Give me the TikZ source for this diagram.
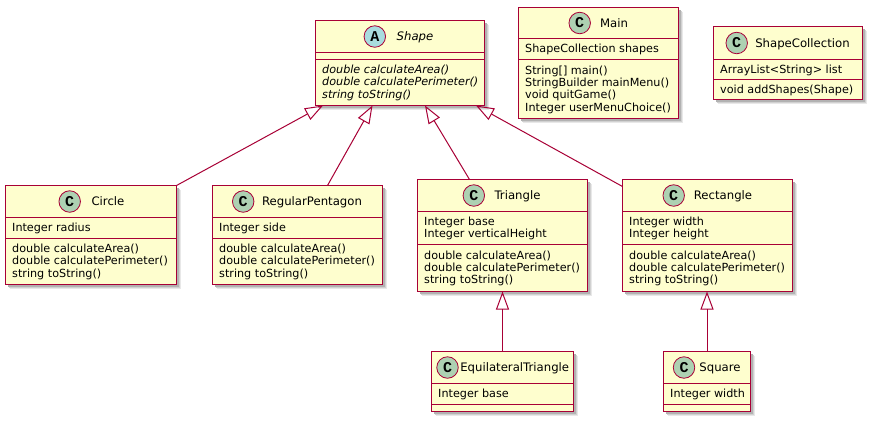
\documentclass[tikz,border=0pt]{standalone}
\usepackage{fontspec}
\setmainfont{DejaVu Sans}
\newfontfamily\iconmono{Liberation Mono}
\usetikzlibrary{arrows.meta,shadows,calc}
\definecolor{umlred}{HTML}{A80036}
\definecolor{umlfill}{HTML}{FEFECE}
\definecolor{cgreen}{HTML}{ADD1B2}
\definecolor{ablue}{HTML}{A9DCDF}
\newcommand\memberfont{\fontsize{11.2}{12.4}\selectfont}
\newcommand\titlefont{\fontsize{11.7}{14}\selectfont}
\newcommand\iconfont{\iconmono\bfseries\fontsize{15}{15}\selectfont}
\tikzset{
  classbox/.style={draw=umlred, line width=1.5pt, fill=umlfill, anchor=north west,
    inner sep=0pt, outer sep=0pt,
    drop shadow={shadow xshift=4.5pt, shadow yshift=-4.5pt, fill=black!9, opacity=1},
    drop shadow={shadow xshift=3.5pt, shadow yshift=-3.5pt, fill=black!18, opacity=1},
    drop shadow={shadow xshift=2.5pt, shadow yshift=-2.5pt, fill=black!30, opacity=1}},
  sepline/.style={draw=umlred, line width=1pt},
  member/.style={anchor=base west, inner sep=0pt, font=\memberfont},
  title/.style={inner sep=0pt, font=\titlefont, text height=8.6pt, text depth=0pt},
  cicon/.style={circle, draw=umlred, line width=0.8pt, fill=cgreen, minimum size=21.5pt,
    inner sep=0pt, font=\iconfont},
  aicon/.style={cicon, fill=ablue},
  inherit/.style={draw=umlred, line width=1pt, -{Triangle[open, length=18pt, width=13pt]}}
}
% #1 name prefix, #2 box name, #3 first baseline below box top, #4 list of lines
\newcommand\members[4]{%
  \foreach \t [count=\i] in {#4} {%
    \node[member] (#1\i) at ($(#2.north west)+(6.5,#3+12.4*\i-12.4)$) {\t};
  }%
}
\newcommand\seps[3]{%
  \draw[sepline] ([yshift=-#2pt]#1.north west) -- ([yshift=-#2pt]#1.north east);
  \draw[sepline] ([yshift=-#3pt]#1.north west) -- ([yshift=-#3pt]#1.north east);
}
\begin{document}
\begin{tikzpicture}[x=1pt,y=-1pt]
\useasboundingbox[fill=white] (0,0) rectangle (875,424);

% ---------- boxes ----------
\node[classbox, minimum width=169pt, minimum height=85pt] (shape) at (315.5,20.5) {};
\node[classbox, minimum width=160pt, minimum height=111pt] (main) at (518.5,7.5) {};
\node[classbox, minimum width=149pt, minimum height=73pt] (coll) at (713.5,26.5) {};
\node[classbox, minimum width=171pt, minimum height=99pt] (circ) at (5.5,185.5) {};
\node[classbox, minimum width=170pt, minimum height=99pt] (pent) at (212.5,185.5) {};
\node[classbox, minimum width=170pt, minimum height=112pt] (tri) at (417.5,179.5) {};
\node[classbox, minimum width=170pt, minimum height=112pt] (rect) at (622.5,179.5) {};
\node[classbox, minimum width=142pt, minimum height=60pt] (eq) at (431.5,351.5) {};
\node[classbox, minimum width=87pt, minimum height=60pt] (sq) at (663.5,351.5) {};

% ---------- compartments ----------
\seps{shape}{32}{39}
\seps{main}{31}{52}
\seps{coll}{33}{53}
\seps{circ}{32}{53}
\seps{pent}{32}{53}
\seps{tri}{32}{65}
\seps{rect}{32}{65}
\seps{eq}{32}{53}
\seps{sq}{32}{53}

% ---------- headers ----------
\node[aicon] (shape-i) at (374.8,36.5) {A};
\node[title, font=\titlefont\itshape] (shape-t) at (415,36.5) {Shape};
\node[cicon] (main-i) at (579.7,23) {C};
\node[title] (main-t) at (614,23) {Main};
\node[cicon] (coll-i) at (736.7,43) {C};
\node[title] (coll-t) at (802.5,43) {ShapeCollection};
\node[cicon] (circ-i) at (69.7,201.5) {C};
\node[title] (circ-t) at (108,201.5) {Circle};
\node[cicon] (pent-i) at (243.2,201.5) {C};
\node[title] (pent-t) at (312,201.5) {RegularPentagon};
\node[cicon] (tri-i) at (473.8,195.5) {C};
\node[title] (tri-t) at (517.5,195.5) {Triangle};
\node[cicon] (rect-i) at (673.7,195.5) {C};
\node[title] (rect-t) at (723,195.5) {Rectangle};
\node[cicon] (eq-i) at (447.5,367.5) {C};
\node[title] (eq-t) at (514.7,367.5) {EquilateralTriangle};
\node[cicon] (sq-i) at (684,367.5) {C};
\node[title] (sq-t) at (720,367.5) {Square};

% ---------- members ----------
\members{shape-m}{shape}{53}{{\itshape double calculateArea()},{\itshape double calculatePerimeter()},{\itshape string toString()}}
\members{main-a}{main}{45}{ShapeCollection shapes}
\members{main-m}{main}{66.5}{{String[] main()},{StringBuilder mainMenu()},{void quitGame()},{Integer userMenuChoice()}}
\members{coll-a}{coll}{46.5}{ArrayList<String> list}
\members{coll-m}{coll}{66.5}{void addShapes(Shape)}
\members{circ-a}{circ}{46}{Integer radius}
\members{circ-m}{circ}{67}{{double calculateArea()},{double calculatePerimeter()},{string toString()}}
\members{pent-a}{pent}{46}{Integer side}
\members{pent-m}{pent}{67}{{double calculateArea()},{double calculatePerimeter()},{string toString()}}
\members{tri-a}{tri}{46}{Integer base,Integer verticalHeight}
\members{tri-m}{tri}{79.5}{{double calculateArea()},{double calculatePerimeter()},{string toString()}}
\members{rect-a}{rect}{46}{Integer width,Integer height}
\members{rect-m}{rect}{79.5}{{double calculateArea()},{double calculatePerimeter()},{string toString()}}
\members{eq-a}{eq}{46.3}{Integer base}
\members{sq-a}{sq}{46.3}{Integer width}

% ---------- inheritance ----------
\draw[inherit] (circ.north east) -- ([xshift=7.5pt]shape.south west);
\draw[inherit] ([xshift=30pt]pent.north) -- ([xshift=57pt]shape.south west);
\draw[inherit] ([xshift=-33pt]tri.north) -- ([xshift=109.5pt]shape.south west);
\draw[inherit] ([yshift=-7pt]rect.north west) -- ([xshift=160.5pt]shape.south west);
\draw[inherit] (eq.north) -- (eq.north |- tri.south);
\draw[inherit] (sq.north) -- (sq.north |- rect.south);
\end{tikzpicture}
\end{document}
